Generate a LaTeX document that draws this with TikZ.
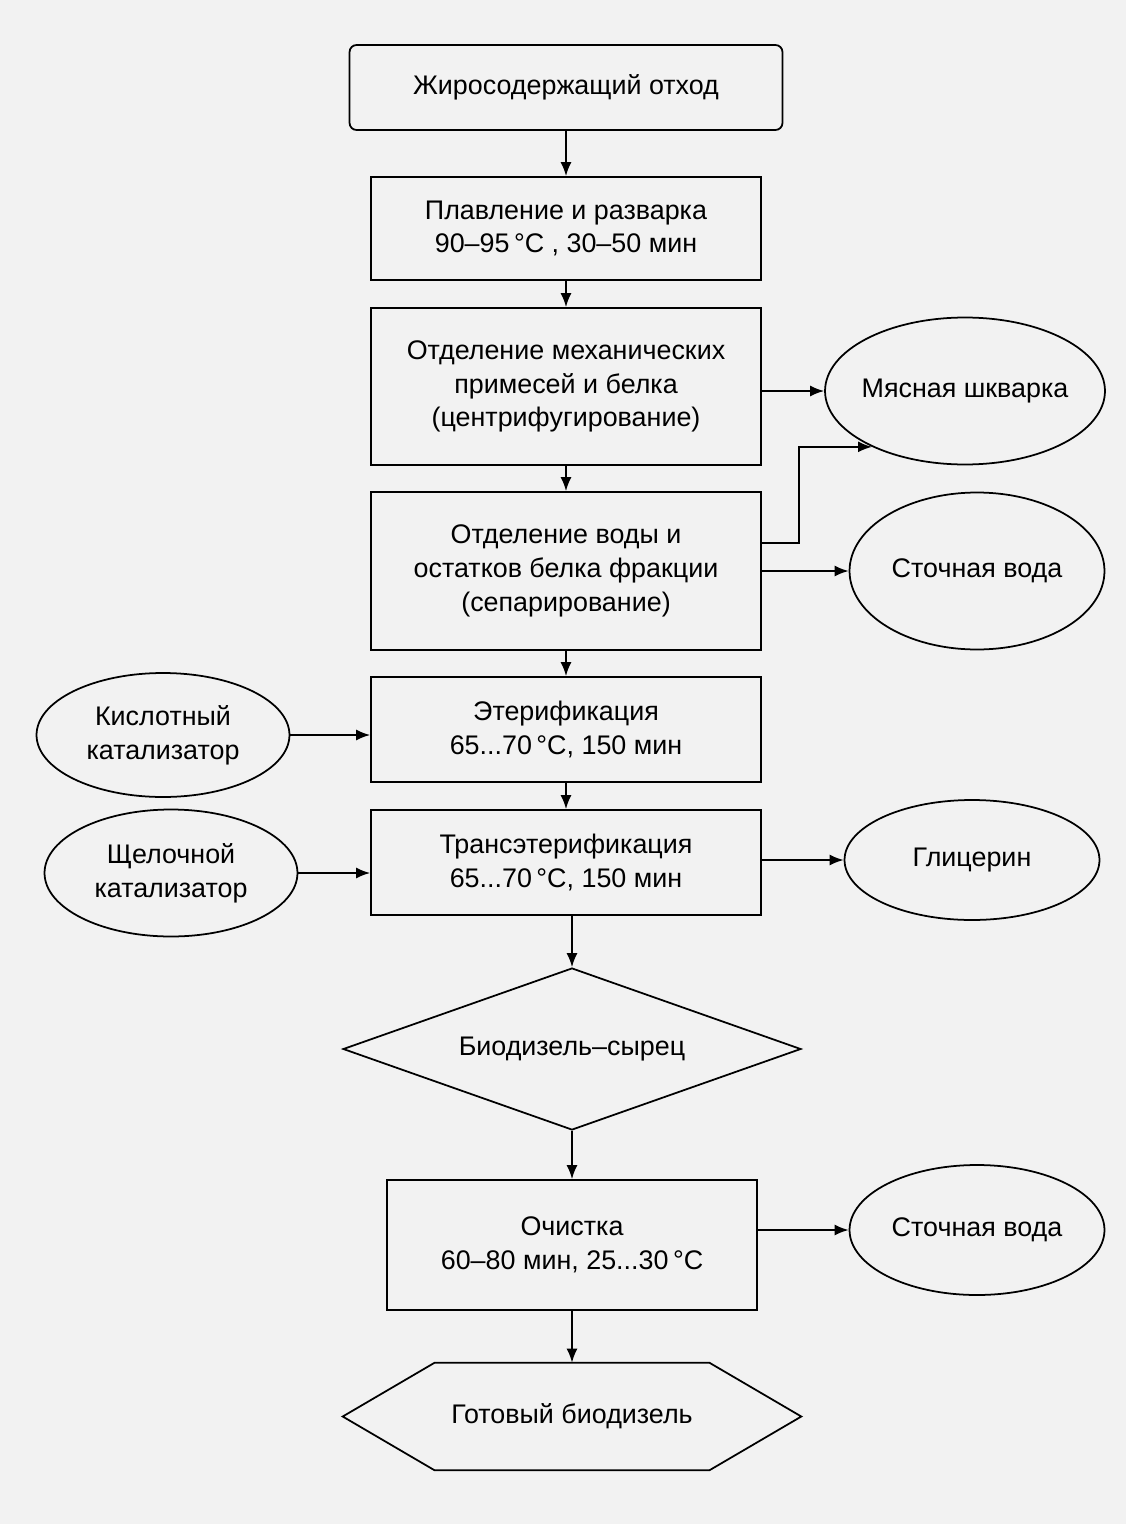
\documentclass[tikz,border=0pt]{standalone}
\usepackage{fontspec}
\setmainfont{Liberation Sans}
\usepackage{xcolor}
\usepackage{tikz}
\usetikzlibrary{arrows.meta,positioning,calc,shapes.geometric}
\tikzset{
  flowtext/.style={font=\fontsize{15.3}{19.2}\selectfont, align=center},
  flowstart/.style={flowtext, draw, line width=1pt, rounded corners=4pt, minimum width=8.66cm, minimum height=1.7cm, inner sep=2pt},
  flowbox/.style={flowtext, draw, line width=1pt, minimum width=7.8cm, inner sep=2pt},
  flowside/.style={flowtext, draw, ellipse, line width=1pt, inner sep=0pt},
  flowdiamond/.style={flowtext, draw, diamond, aspect=2.83, line width=1pt, minimum width=9.16cm, minimum height=3.24cm, inner sep=0pt},
  flowhex/.style={flowtext, minimum width=9.16cm, minimum height=2.14cm, inner sep=0pt},
  flowarrow/.style={-{Latex[length=2.8mm,width=2.2mm]}, line width=1pt}
}

\begin{document}
\begin{tikzpicture}[x=0.02cm, y=-0.02cm]
\fill[black!5] (0,0) rectangle (1126,1524);
\useasboundingbox (0,0) rectangle (1126,1524);
% main column
\node[flowstart] (start) at (566,87.5) {Жиросодержащий отход};
\node[flowbox, minimum height=2.06cm] (melt) at (566,228.5) {Плавление и разварка\\90–95\,°C , 30–50 мин};
\node[flowbox, minimum height=3.14cm] (centr) at (566,386.5) {Отделение механических\\примесей и белка\\(центрифугирование)};
\node[flowbox, minimum height=3.16cm] (separ) at (566,571) {Отделение воды и\\остатков белка фракции\\(сепарирование)};
\node[flowbox, minimum height=2.1cm] (ester) at (566,729.5) {Этерификация\\65...70\,°C, 150 мин};
\node[flowbox, minimum height=2.1cm] (trans) at (566,862.5) {Трансэтерификация\\65...70\,°C, 150 мин};
\node[flowdiamond] (crude) at (572,1049) {Биодизель–сырец};
\node[flowbox, minimum width=7.4cm, minimum height=2.6cm] (clean) at (572,1245) {Очистка\\60–80 мин, 25...30\,°C};
\node[flowhex] (final) at (572,1416.5) {Готовый биодизель};
\draw[line width=1pt] ($(final.north west)+(92,0)$) -- ($(final.north east)+(-92,0)$) -- (final.east)
  -- ($(final.south east)+(-92,0)$) -- ($(final.south west)+(92,0)$) -- (final.west) -- cycle;
% side nodes
\node[flowside, inner xsep=-6pt, minimum width=5.6cm, minimum height=2.94cm] (meat) at (965,391) {Мясная шкварка};
\node[flowside, minimum width=5.1cm, minimum height=3.14cm] (water) at (977,571) {Сточная вода};
\node[flowside, minimum width=5.06cm, minimum height=2.48cm] (acid) at (163,735) {Кислотный\\катализатор};
\node[flowside, minimum width=5.06cm, minimum height=2.54cm] (alkali) at (171,873) {Щелочной\\катализатор};
\node[flowside, minimum width=5.1cm, minimum height=2.4cm] (glycerol) at (972,860) {Глицерин};
\node[flowside, minimum width=5.1cm, minimum height=2.6cm] (washwater) at (977,1230) {Сточная вода};
% arrows
\foreach \a/\b in {start/melt,melt/centr,centr/separ,separ/ester,ester/trans,crude/clean,clean/final} {
  \draw[flowarrow] (\a) -- (\b);
}
\draw[flowarrow] (trans.south -| crude) -- (crude);
\draw[flowarrow] (centr.east |- meat) -- (meat);
\draw[flowarrow] ($(separ.east)+(0,-28)$) -- ++(37,0) |- (meat.211);
\draw[flowarrow] (separ) -- (water);
\draw[flowarrow] (acid) -- (acid -| ester.west);
\draw[flowarrow] (alkali) -- (alkali -| trans.west);
\draw[flowarrow] (glycerol -| trans.east) -- (glycerol);
\draw[flowarrow] (washwater -| clean.east) -- (washwater);
\end{tikzpicture}
\end{document}
